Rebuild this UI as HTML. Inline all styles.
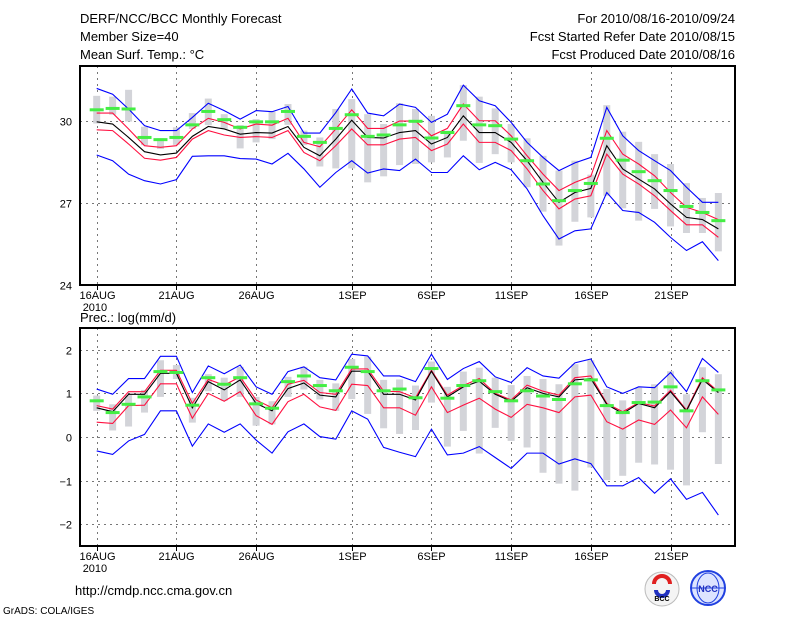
<!DOCTYPE html>
<html><head><meta charset="utf-8"><style>
body{margin:0;background:#fff;}
svg{display:block;font-family:"Liberation Sans",sans-serif;}
</style></head><body>
<svg id="chart" width="800" height="618" viewBox="0 0 800 618">
<text x="80" y="23" font-size="13">DERF/NCC/BCC Monthly Forecast</text>
<text x="80" y="41" font-size="13">Member Size=40</text>
<text x="80" y="59" font-size="13">Mean Surf. Temp.: °C</text>
<text x="735" y="23" font-size="13" text-anchor="end">For 2010/08/16-2010/09/24</text>
<text x="735" y="41" font-size="13" text-anchor="end">Fcst Started Refer Date 2010/08/15</text>
<text x="735" y="59" font-size="13" text-anchor="end">Fcst Produced Date 2010/08/16</text>
<text x="80" y="322" font-size="13">Prec.: log(mm/d)</text>
<text x="75" y="595" font-size="13">http://cmdp.ncc.cma.gov.cn</text>
<text x="3" y="614" font-size="10">GrADS: COLA/IGES</text>
<g>
<circle cx="662" cy="589" r="17" fill="#f4f4f4" stroke="#bbb"/>
<path d="M654 584 a8 8 0 1 1 16 0" fill="none" stroke="#e02020" stroke-width="4"/>
<path d="M656 590 a6 6 0 0 0 12 0" fill="none" stroke="#2030c0" stroke-width="4"/>
<text x="662" y="601" font-size="7" text-anchor="middle" font-weight="bold">BCC</text>
</g>
<g>
<circle cx="708" cy="588" r="17" fill="#dde4ff" stroke="#2040e0" stroke-width="2"/>
<ellipse cx="708" cy="588" rx="11" ry="15" fill="none" stroke="#2040e0"/>
<line x1="692" y1="588" x2="724" y2="588" stroke="#2040e0"/>
<text x="708" y="592" font-size="9" text-anchor="middle" fill="#2030c0" font-weight="bold">NCC</text>
</g>
</svg>
<script>
// ---- data: temperature panel ----
const days = ["16AUG","17AUG","18AUG","19AUG","20AUG","21AUG","22AUG","23AUG","24AUG","25AUG","26AUG","27AUG","28AUG","29AUG","30AUG","31AUG","1SEP","2SEP","3SEP","4SEP","5SEP","6SEP","7SEP","8SEP","9SEP","10SEP","11SEP","12SEP","13SEP","14SEP","15SEP","16SEP","17SEP","18SEP","19SEP","20SEP","21SEP","22SEP","23SEP","24SEP"];
const tickLabels = ["16AUG","21AUG","26AUG","1SEP","6SEP","11SEP","16SEP","21SEP"];
const tickDays = [0,5,10,16,21,26,31,36];
const tTicks = [24,27,30];
const pTicks = [-2,-1,0,1,2];
const tMean = [29.96,29.88,29.39,28.87,28.75,28.82,29.43,29.79,29.70,29.51,29.57,29.55,29.79,29.03,28.72,29.33,30.02,29.39,29.37,29.57,29.64,29.15,29.39,30.18,29.57,29.57,29.21,28.54,27.75,27.02,27.38,27.53,29.09,28.24,27.87,27.51,26.96,26.47,26.39,26.05];
const tRedHi = [30.28,30.28,29.70,29.09,29.03,29.09,29.70,30.09,29.94,29.70,29.88,29.84,30.09,29.21,29.05,29.70,30.40,29.72,29.72,29.99,29.99,29.45,29.72,30.61,30.00,30.00,29.45,28.72,28.05,27.45,27.75,27.97,29.64,28.78,28.42,27.99,27.38,26.84,26.65,26.39];
const tRedLo = [29.67,29.64,29.15,28.63,28.56,28.66,29.33,29.64,29.48,29.39,29.42,29.39,29.64,28.84,28.54,29.09,29.70,29.12,29.12,29.33,29.39,28.91,29.15,29.88,29.21,29.21,28.91,28.24,27.45,26.78,27.14,27.26,28.78,28.05,27.69,27.26,26.72,26.20,26.20,25.74];
const tBlueHi = [31.18,30.97,30.43,29.82,29.64,29.64,30.12,30.64,30.37,30.06,30.37,30.33,30.52,29.55,29.55,30.30,31.16,30.28,30.18,30.61,30.49,29.94,30.24,31.30,30.73,30.55,29.94,29.21,28.66,28.18,28.46,28.66,30.49,29.45,28.91,28.54,28.18,27.57,27.02,27.02];
const tBlueLo = [28.75,28.54,28.05,27.81,27.69,27.85,28.70,28.72,28.72,28.62,28.60,28.42,28.81,28.24,27.57,28.11,28.54,28.09,28.24,28.18,28.60,28.11,28.11,28.72,28.21,28.48,28.21,27.51,26.53,25.68,25.98,26.05,27.38,26.72,26.65,26.29,25.74,25.26,25.58,24.89];
const tGreen = [30.40,30.45,30.43,29.39,29.31,29.39,29.85,30.34,30.04,29.76,29.96,29.96,30.34,29.43,29.21,29.72,30.22,29.43,29.48,29.85,29.98,29.37,29.57,30.55,29.85,29.82,29.33,28.54,27.69,27.08,27.45,27.71,29.36,28.56,28.14,27.81,27.45,26.87,26.65,26.35];
const tBarHi = [30.91,30.88,31.13,29.78,29.36,29.76,30.28,30.81,30.24,29.84,30.06,30.33,30.61,29.64,29.39,30.43,30.79,30.24,29.88,30.64,30.43,30.18,29.64,31.30,30.88,30.45,29.88,29.36,28.72,28.18,28.54,28.03,30.57,29.60,29.23,28.78,28.42,27.72,27.18,27.36];
const tBarLo = [29.90,30.22,29.97,29.11,28.97,29.12,29.70,29.84,29.70,28.99,29.21,29.33,29.85,29.11,28.33,28.26,28.26,27.75,27.97,28.38,28.42,28.48,28.66,29.27,28.46,28.78,28.48,27.57,26.68,25.44,26.31,26.47,27.26,26.80,26.35,26.78,26.14,25.90,25.90,25.23];
// ---- data: precipitation panel ----
const pMean = [0.67,0.58,0.98,0.98,1.46,1.46,0.67,1.27,1.08,1.31,0.77,0.60,1.11,1.24,0.96,0.92,1.51,1.51,0.98,0.98,0.85,1.51,0.92,1.15,1.28,0.98,0.82,1.13,1.00,0.92,1.31,1.34,0.75,0.54,0.77,0.67,1.04,0.60,1.32,1.02];
const pRedHi = [0.72,0.64,1.04,1.04,1.53,1.53,0.77,1.32,1.19,1.38,0.85,0.67,1.21,1.30,1.02,0.98,1.56,1.56,1.05,1.04,0.90,1.53,0.96,1.18,1.34,1.00,0.85,1.19,1.05,0.96,1.36,1.40,0.77,0.58,0.79,0.71,1.07,0.62,1.36,1.04];
const pRedLo = [0.34,0.31,0.72,0.73,1.22,1.22,0.43,1.00,0.82,1.04,0.49,0.29,0.81,0.98,0.69,0.61,1.21,1.18,0.67,0.67,0.50,1.15,0.56,0.73,0.89,0.64,0.45,0.75,0.67,0.56,0.92,0.96,0.35,0.18,0.39,0.29,0.62,0.21,0.92,0.52];
const pBlueHi = [1.10,0.98,1.34,1.34,1.85,1.85,1.02,1.63,1.45,1.65,1.15,0.98,1.50,1.61,1.36,1.31,1.90,1.86,1.40,1.40,1.27,1.90,1.32,1.57,1.73,1.38,1.25,1.59,1.40,1.35,1.70,1.79,1.15,1.00,1.15,1.13,1.48,1.04,1.80,1.48];
const pBlueLo = [-0.32,-0.40,-0.09,0.06,0.60,0.60,-0.21,0.30,0.11,0.30,-0.07,-0.37,0.12,0.30,0.01,-0.05,0.60,0.41,-0.24,-0.35,-0.45,0.18,-0.41,-0.37,-0.22,-0.47,-0.72,-0.37,-0.37,-0.62,-0.50,-0.61,-1.12,-1.12,-0.93,-1.29,-0.96,-1.43,-1.27,-1.79];
const pGreen = [0.83,0.56,0.75,0.92,1.50,1.48,0.73,1.36,1.21,1.36,0.76,0.66,1.27,1.40,1.18,1.06,1.60,1.50,1.06,1.10,0.90,1.57,0.89,1.18,1.29,1.04,0.83,1.06,0.94,0.86,1.22,1.31,0.72,0.56,0.79,0.80,1.15,0.60,1.29,1.08];
const pBarHi = [0.95,0.75,0.96,1.08,1.76,1.65,0.90,1.44,1.36,1.61,0.92,0.82,1.38,1.61,1.31,1.23,1.79,1.84,1.31,1.32,1.18,1.73,1.15,1.50,1.59,1.36,1.19,1.40,1.33,1.21,1.67,1.76,1.10,0.84,1.13,1.21,1.51,0.98,1.60,1.44];
const pBarLo = [0.60,0.15,0.24,0.56,0.92,1.33,0.33,1.05,0.83,0.92,0.26,0.29,0.92,1.09,0.86,0.60,0.87,0.53,0.20,0.07,0.16,0.79,-0.22,0.14,-0.38,0.21,-0.09,-0.24,-0.82,-1.07,-1.23,-0.70,-0.99,-0.89,-0.59,-0.63,-0.75,-1.11,0.11,-0.62];

const NS = "http://www.w3.org/2000/svg";
const svg = document.getElementById("chart");
function el(tag, attrs, parent){ const e=document.createElementNS(NS,tag); for(const k in attrs) e.setAttribute(k,attrs[k]); (parent||svg).appendChild(e); return e; }
const X0=80, X1=735;
function xScale(d){ return 96.7 + d*15.94; }

function panel(name, top, bottom, vmin, vmax, yticks, s, tickFmt){
  const g = el("g",{});
  
  
  const y = v => bottom - (v - vmin)/(vmax - vmin)*(bottom-top);
  yticks.forEach(t=>{
    const yy=Math.round(y(t))+0.5;
    if(t>vmin && t<vmax){
      const gl=el("line",{x1:X0,x2:X1,y1:yy,y2:yy,stroke:"#777","stroke-dasharray":"2,4","stroke-width":1},g);
      
      
    }
    const tl=el("text",{x:X0-8,y:yy+4,"font-size":"11","text-anchor":"end"},g);
    tl.textContent=tickFmt(t);
    
    
  });
  tickDays.forEach((d,i)=>{
    const xx=Math.round(xScale(d))+0.5;
    const vl=el("line",{x1:xx,x2:xx,y1:top,y2:bottom,stroke:"#777","stroke-dasharray":"2,4","stroke-width":1},g);
    
    
    el("line",{x1:xx,x2:xx,y1:bottom,y2:bottom+5,stroke:"#000"},g);
    const lt=el("text",{x:xx,y:bottom+14,"font-size":"11","text-anchor":"middle"},g);
    lt.textContent=tickLabels[i];
    
    
  });
  const yr=el("text",{x:xScale(0)-14,y:bottom+26,"font-size":"11"},g);
  yr.textContent="2010";
  
  
  s.barHi.forEach((hi,d)=>{
    const lo=s.barLo[d];
    const r=el("rect",{x:xScale(d)-3.5,y:y(hi),width:7,height:Math.max(1,y(lo)-y(hi)),fill:"#d3d4d9"},g);
    
    
  });
  const line=(arr,color,nm)=>{
    const p=el("polyline",{points:arr.map((v,d)=>xScale(d)+","+y(v)).join(" "),fill:"none",stroke:color,"stroke-width":1.1},g);
    
    
  };
  line(s.blueHi,"#0000ff","blue-upper-line");
  line(s.blueLo,"#0000ff","blue-lower-line");
  line(s.redHi,"#ff1040","red-upper-line");
  line(s.redLo,"#ff1040","red-lower-line");
  line(s.mean,"#000","ensemble-mean-line");
  s.green.forEach((v,d)=>{
    const r=el("rect",{x:xScale(d)-7,y:y(v)-1.5,width:14,height:3,fill:"#44ee44"},g);
    
    
  });
  const fr=el("rect",{x:X0,y:top,width:X1-X0,height:bottom-top,fill:"none",stroke:"#000","stroke-width":2},g);
  
  
}
panel("temperature-panel",66,285,24,32,tTicks,{mean:tMean,redHi:tRedHi,redLo:tRedLo,blueHi:tBlueHi,blueLo:tBlueLo,green:tGreen,barHi:tBarHi,barLo:tBarLo},t=>String(t));
panel("precipitation-panel",328,546,-2.5,2.5,pTicks,{mean:pMean,redHi:pRedHi,redLo:pRedLo,blueHi:pBlueHi,blueLo:pBlueLo,green:pGreen,barHi:pBarHi,barLo:pBarLo},t=>t<0?"\u2212"+(-t):String(t));
</script>
</body></html>
